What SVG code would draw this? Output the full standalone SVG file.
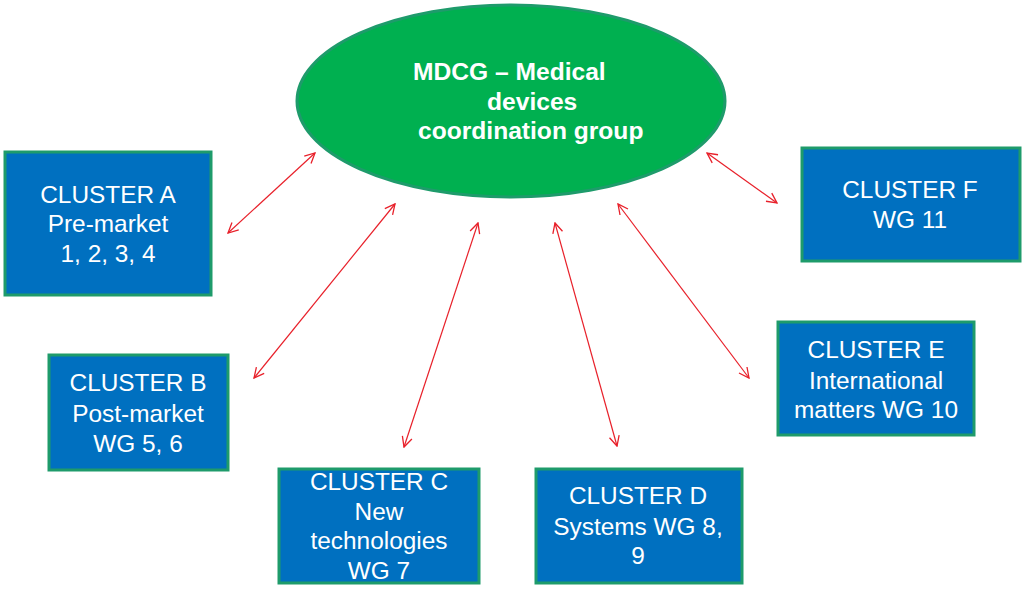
<svg xmlns="http://www.w3.org/2000/svg" width="1024" height="593" viewBox="0 0 1024 593">
<style>
.box{fill:#0070C0;stroke:#1E9B6B;stroke-width:3}
.bt{font-family:"Liberation Sans",Arial,sans-serif;font-size:24.4px;fill:#FFFFFF;text-anchor:middle}
.mt{font-family:"Liberation Sans",Arial,sans-serif;font-size:24.6px;font-weight:bold;fill:#FFFFFF}
.conn{stroke:#E8202A;stroke-width:1.2;fill:none;marker-start:url(#ah);marker-end:url(#ah)}
</style>
<defs>
<marker id="ah" viewBox="0 0 12 12" refX="11" refY="6" markerWidth="12" markerHeight="12" markerUnits="userSpaceOnUse" orient="auto-start-reverse">
<path d="M1,1 L11,6 L1,11" fill="none" stroke="#E8202A" stroke-width="1.3"/>
</marker>
</defs>
<rect width="1024" height="593" fill="#FFFFFF"/>
<g id="mdcg">
<ellipse cx="511" cy="101" rx="214" ry="96" fill="#00B050" stroke="#1E9B6B" stroke-width="3"/>
<text class="mt" x="413" y="80">MDCG – Medical</text>
<text class="mt" x="487" y="110">devices</text>
<text class="mt" x="418" y="139">coordination group</text>
</g>
<g id="clusterA">
<rect class="box" x="5" y="152" width="206" height="143"/>
<text class="bt" x="108" y="203">CLUSTER A</text>
<text class="bt" x="108" y="232">Pre-market</text>
<text class="bt" x="108" y="262">1, 2, 3, 4</text>
</g>
<g id="clusterB">
<rect class="box" x="49" y="355" width="179" height="115"/>
<text class="bt" x="138" y="391">CLUSTER B</text>
<text class="bt" x="138" y="422">Post-market</text>
<text class="bt" x="138" y="452">WG 5, 6</text>
</g>
<g id="clusterC">
<rect class="box" x="279" y="469" width="200" height="114"/>
<text class="bt" x="379" y="490">CLUSTER C</text>
<text class="bt" x="379" y="520">New</text>
<text class="bt" x="379" y="549">technologies</text>
<text class="bt" x="379" y="579">WG 7</text>
</g>
<g id="clusterD">
<rect class="box" x="536" y="469" width="206" height="114"/>
<text class="bt" x="638" y="504">CLUSTER D</text>
<text class="bt" x="638" y="535">Systems WG 8,</text>
<text class="bt" x="638" y="564">9</text>
</g>
<g id="clusterE">
<rect class="box" x="778" y="322" width="196" height="113"/>
<text class="bt" x="876" y="358">CLUSTER E</text>
<text class="bt" x="876" y="389">International</text>
<text class="bt" x="876" y="418">matters WG 10</text>
</g>
<g id="clusterF">
<rect class="box" x="802" y="148" width="218" height="113"/>
<text class="bt" x="910" y="198">CLUSTER F</text>
<text class="bt" x="910" y="228">WG 11</text>
</g>
<g id="connectors">
<line class="conn" x1="228" y1="233" x2="315" y2="153"/>
<line class="conn" x1="254" y1="378" x2="395" y2="204"/>
<line class="conn" x1="404" y1="447" x2="478" y2="223"/>
<line class="conn" x1="617" y1="446" x2="555" y2="223"/>
<line class="conn" x1="749" y1="378" x2="618" y2="204"/>
<line class="conn" x1="777" y1="203" x2="707" y2="153"/>
</g>
</svg>
